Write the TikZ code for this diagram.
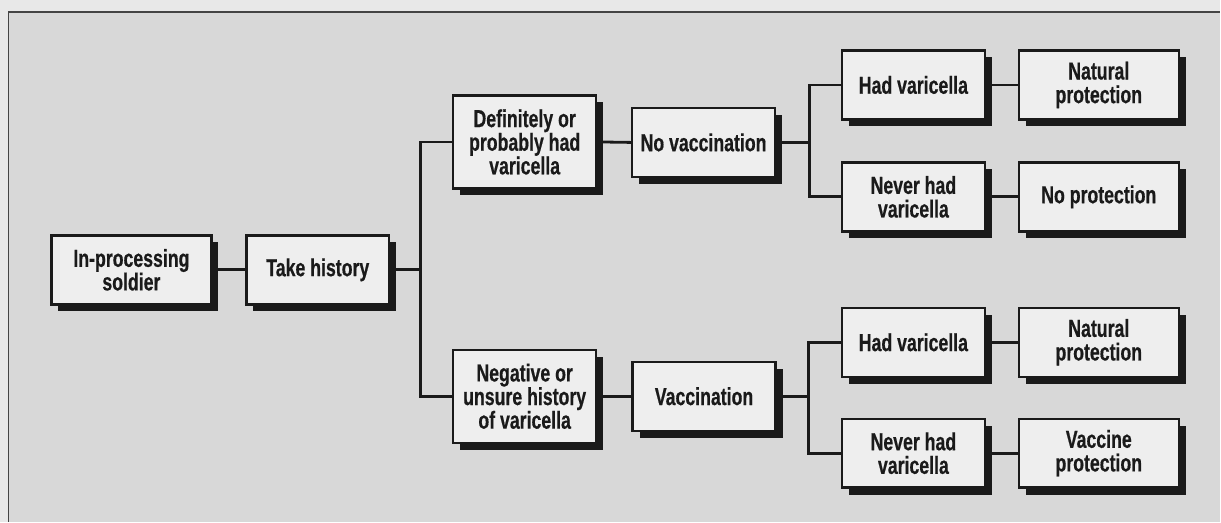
\documentclass[tikz,border=0pt]{standalone}
\usepackage{fontspec}
\newfontfamily\condfont{Liberation Sans}[FakeStretch=0.72, BoldFeatures={FakeBold=0.5}]
\usetikzlibrary{shadows}
\definecolor{pagebg}{HTML}{E8E8E8}
\definecolor{panelbg}{HTML}{D8D8D8}
\definecolor{boxbg}{HTML}{EEEEEE}
\definecolor{ink}{HTML}{1A1A1A}
\definecolor{framecol}{HTML}{444444}
\begin{document}
\begin{tikzpicture}[x=0.25mm,y=-0.25mm,
  flowbox/.style={draw=ink, line width=0.6mm, fill=boxbg, align=center,
    inner sep=0pt, text=ink,
    font=\condfont\bfseries\fontsize{17.5pt}{16.8pt}\selectfont,
    minimum height=17.25mm,
    general shadow={fill=ink, shadow xshift=1.75mm, shadow yshift=-1.75mm}},
  narrowbox/.style={flowbox, minimum width=35.75mm},
  widebox/.style={flowbox, minimum width=40mm},
  tallbox/.style={narrowbox, minimum height=23.25mm},
  conn/.style={draw=ink, line width=0.7mm}]
% background and frame
\fill[pagebg] (0,0) rectangle (1221,522);
\fill[panelbg] (8.5,12) rectangle (1221,522);
\draw[framecol, line width=0.4mm] (8.5,522) -- (8.5,12) -- (1221,12);
\useasboundingbox (0,0) rectangle (1221,522);
% nodes
\node[widebox]   (inproc) at (131.5,270) {In-processing\\soldier};
\node[narrowbox] (take)   at (318,270)   {Take history};
\node[tallbox]   (def)    at (525,142)   {Definitely or\\probably had\\varicella};
\node[tallbox]   (neg)    at (525,396.5) {Negative or\\unsure history\\of varicella};
\node[narrowbox] (novac)  at (704,142.5) {No vaccination};
\node[narrowbox] (vac)    at (704.5,396.5) {Vaccination};
\node[narrowbox] (hadA)   at (914,85)    {Had varicella};
\node[narrowbox] (neverA) at (914,197)   {Never had\\varicella};
\node[widebox]   (natA)   at (1099.5,85) {Natural\\protection};
\node[widebox]   (noprot) at (1099.5,197) {No protection};
\node[narrowbox] (hadB)   at (914,342.5) {Had varicella};
\node[narrowbox] (neverB) at (914,453.5) {Never had\\varicella};
\node[widebox]   (natB)   at (1099.5,342.5) {Natural\\protection};
\node[widebox]   (vacprot) at (1099.5,453.5) {Vaccine\\protection};
% junctions
\coordinate (j1) at (421,270);
\coordinate (j2) at (810,142.5);
\coordinate (j3) at (809,396.5);
% connectors
\draw[conn] (inproc.east) -- (take.west);
\draw[conn] (take.east) -- (j1);
\draw[conn] (def.west) -| (j1) |- (neg.west);
\draw[conn] (def.east) -- (novac.west);
\draw[conn] (neg.east) -- (vac.west);
\draw[conn] (novac.east) -- (j2);
\draw[conn] (hadA.west) -| (j2) |- (neverA.west);
\draw[conn] (vac.east) -- (j3);
\draw[conn] (hadB.west) -| (j3) |- (neverB.west);
\draw[conn] (hadA.east) -- (natA.west);
\draw[conn] (neverA.east) -- (noprot.west);
\draw[conn] (hadB.east) -- (natB.west);
\draw[conn] (neverB.east) -- (vacprot.west);
\end{tikzpicture}
\end{document}
